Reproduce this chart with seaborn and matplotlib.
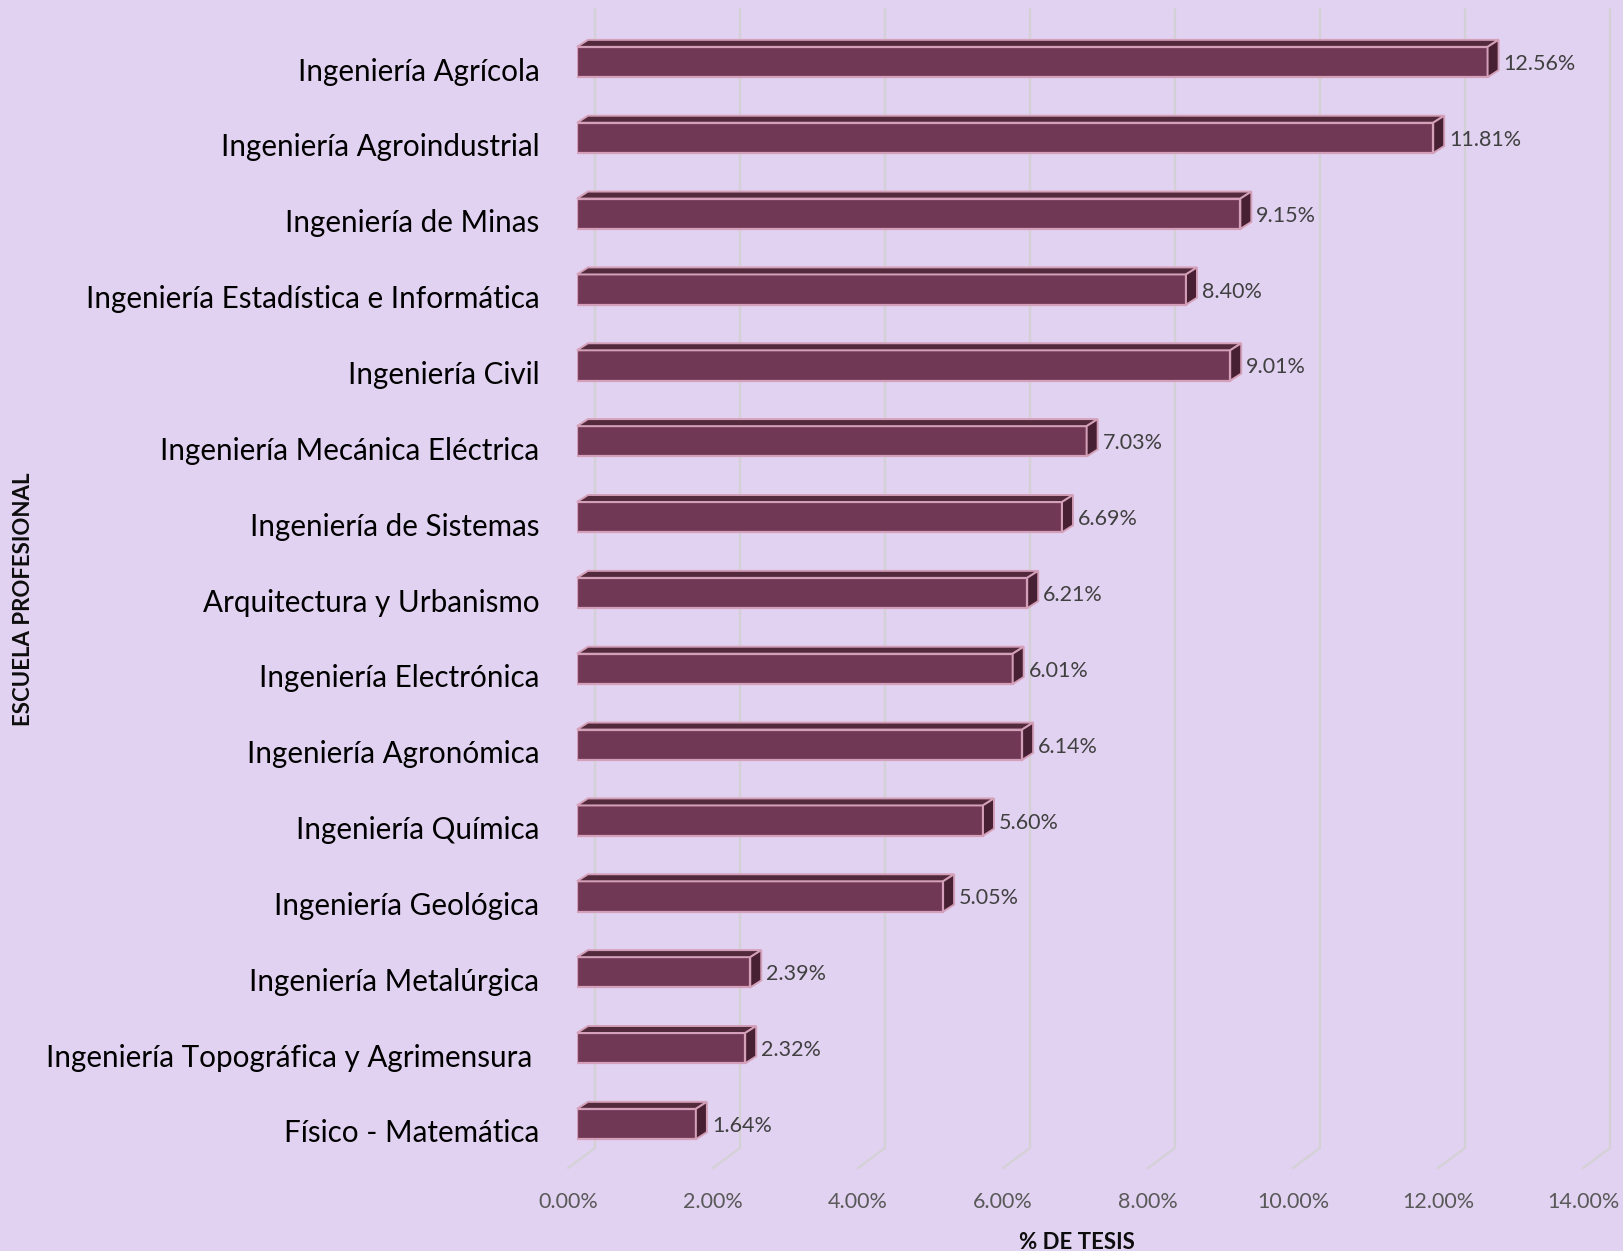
import matplotlib
matplotlib.use("Agg")
import matplotlib.pyplot as plt
import matplotlib.transforms as mtransforms
from matplotlib.patches import Polygon
from matplotlib.lines import Line2D
import seaborn as sns
import pandas as pd

categories = [
    "Ingeniería Agrícola",
    "Ingeniería Agroindustrial",
    "Ingeniería de Minas",
    "Ingeniería Estadística e Informática",
    "Ingeniería Civil",
    "Ingeniería Mecánica Eléctrica",
    "Ingeniería de Sistemas",
    "Arquitectura y Urbanismo",
    "Ingeniería Electrónica",
    "Ingeniería Agronómica",
    "Ingeniería Química",
    "Ingeniería Geológica",
    "Ingeniería Metalúrgica",
    "Ingeniería Topográfica y Agrimensura ",
    "Físico - Matemática",
]
values = [12.56, 11.81, 9.15, 8.40, 9.01, 7.03, 6.69, 6.21, 6.01, 6.14, 5.60, 5.05, 2.39, 2.32, 1.64]
xticks = [0, 2, 4, 6, 8, 10, 12, 14]
xlabel = "% DE TESIS"
ylabel = "ESCUELA PROFESIONAL"

BG = "#E2D2F1"
FRONT = "#703854"
TOP = "#522A3C"
SIDE = "#472133"
EDGE = "#D4A0B9"
GRID = "#D4D1D6"

sns.set_theme(style="white")
plt.rcParams["font.family"] = ["Lato", "DejaVu Sans"]

DPI = 100
fig = plt.figure(figsize=(16.23, 12.51), dpi=DPI, facecolor=BG)
ax = fig.add_axes([0.35551, 0.06635, 0.62539, 0.92646])
ax.set_facecolor(BG)

df = pd.DataFrame({"cat": categories, "val": values})
sns.barplot(data=df, x="val", y="cat", orient="h", color=FRONT, saturation=1,
            width=0.4, edgecolor=EDGE, linewidth=1.6, ax=ax, zorder=2)

ax.set_xlim(0, 14)
ax.set_ylim(14.58, -0.699)
ax.set_autoscale_on(False)
for s in ax.spines.values():
    s.set_visible(False)
ax.grid(False)

# 3D depth offsets (pixels)
bdx, bdy = 11, 7        # bar depth
fdx = -9                # floor front offset from bar front plane
gdx = 18                # back wall offset from bar front plane
wall_rise = 20          # floor depth vertical

fig.canvas.draw()
to_disp = ax.transData.transform
ident = mtransforms.IdentityTransform()

# gridlines on back wall + floor diagonals
y_bot = ax.transAxes.transform((0, 0))[1]
y_top = ax.transAxes.transform((0, 1))[1]
for t in xticks:
    xd = to_disp((t, 0))[0]
    ax.add_artist(Line2D([xd + gdx, xd + gdx, xd + fdx],
                         [y_top, y_bot + wall_rise, y_bot],
                         transform=ident, color=GRID, lw=1.7, zorder=0.5,
                         clip_on=False))

# 3D faces for bars
for p in ax.patches:
    x0, y0 = p.get_x(), p.get_y()
    w, h = p.get_width(), p.get_height()
    (X0, Ya) = to_disp((x0, y0))
    (X1, Yb) = to_disp((x0 + w, y0 + h))
    ytop, ybot = max(Ya, Yb), min(Ya, Yb)
    top = Polygon([(X0, ytop), (X1, ytop), (X1 + bdx, ytop + bdy), (X0 + bdx, ytop + bdy)],
                  closed=True, transform=ident, facecolor=TOP, edgecolor=EDGE,
                  lw=1.4, zorder=3, clip_on=False)
    side = Polygon([(X1, ybot), (X1, ytop), (X1 + bdx, ytop + bdy), (X1 + bdx, ybot + bdy)],
                   closed=True, transform=ident, facecolor=SIDE, edgecolor=EDGE,
                   lw=1.4, zorder=3, clip_on=False)
    ax.add_artist(top)
    ax.add_artist(side)

# data labels
for i, v in enumerate(values):
    ax.annotate(f"{v:.2f}%", xy=(v, i), xytext=(bdx + 5, -2), textcoords="offset pixels",
                ha="left", va="center", fontsize=15.5, color="#404040")

# ticks
ax.set_xticks(xticks)
ax.set_xticklabels([f"{t:.2f}%" for t in xticks])
ax.tick_params(axis="x", length=0, pad=17, labelsize=15.5, labelcolor="#595959")
ax.tick_params(axis="y", length=0, pad=27, labelsize=21.3, labelcolor="#000000")
ax.set_ylabel("")
ax.set_xlabel("")

offx = mtransforms.ScaledTranslation(fdx / DPI, 0, fig.dpi_scale_trans)
for lab in ax.get_xticklabels():
    lab.set_transform(lab.get_transform() + offx)
offy = mtransforms.ScaledTranslation(0, -7 / DPI, fig.dpi_scale_trans)
for lab in ax.get_yticklabels():
    lab.set_transform(lab.get_transform() + offy)

ax.set_xlabel(xlabel, fontsize=16, fontweight="bold", color="#0D0D0D")
ax.xaxis.label.set_va("center")
ax.xaxis.set_label_coords(0.4926, -0.0640)
ax.set_ylabel(ylabel, fontsize=16, fontweight="bold", color="#0D0D0D")
ax.yaxis.label.set_va("center")
ax.yaxis.set_label_coords(-0.5458, 0.4909)

fig.savefig("out.png", dpi=DPI, facecolor=BG)
